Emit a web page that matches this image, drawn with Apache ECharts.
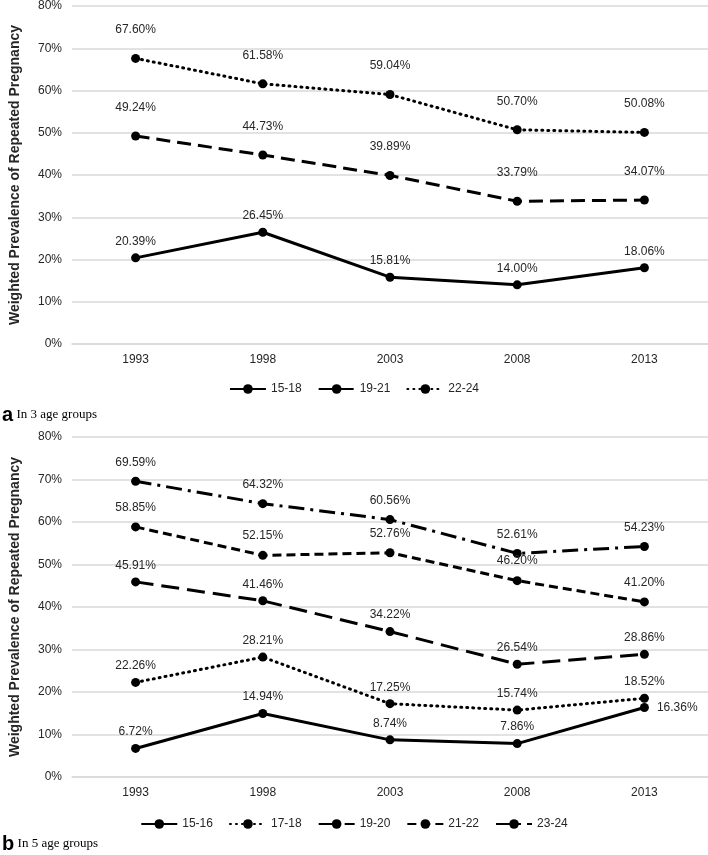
<!DOCTYPE html>
<html style="height: 100%">
<head>
    <meta charset="utf-8">
    <script type="text/javascript" src="https://cdn.jsdelivr.net/npm/echarts@6/dist/echarts.min.js"></script>
</head>
<body style="height: 100%; margin: 0; background: #fff">
<div id="container" style="width: 708px; height: 855px"></div>
<script type="text/javascript">
    var years = ['1993', '1998', '2003', '2008', '2013'];

    // panel a - 3 age groups
    var groupsA = ['15-18', '19-21', '22-24'];
    var a1518 = [20.39, 26.45, 15.81, 14.00, 18.06];
    var a1921 = [49.24, 44.73, 39.89, 33.79, 34.07];
    var a2224 = [67.60, 61.58, 59.04, 50.70, 50.08];

    // panel b - 5 age groups
    var groupsB = ['15-16', '17-18', '19-20', '21-22', '23-24'];
    var b1516 = [6.72, 14.94, 8.74, 7.86, 16.36];
    var b1718 = [22.26, 28.21, 17.25, 15.74, 18.52];
    var b1920 = [45.91, 41.46, 34.22, 26.54, 28.86];
    var b2122 = [58.85, 52.15, 52.76, 46.20, 41.20];
    var b2324 = [69.59, 64.32, 60.56, 52.61, 54.23];

    var FONT = 'Liberation Sans';
    var axisName = 'Weighted Prevalence of Repeated Pregnancy';

    var dom = document.getElementById('container');
    var myChart = echarts.init(dom);

    function xAxis(idx) {
        return {
            type: 'category', gridIndex: idx, data: years,
            axisLine: {lineStyle: {color: '#d9d9d9', width: 1.5}},
            axisTick: {show: false},
            axisLabel: {color: '#262626', fontFamily: FONT, fontSize: 12, margin: 10}
        };
    }
    function yAxis(idx) {
        return {
            type: 'value', gridIndex: idx, min: 0, max: 80, interval: 10,
            name: axisName, nameLocation: 'middle', nameGap: 50,
            nameTextStyle: {fontFamily: FONT, fontSize: 14, fontWeight: 'bold', color: '#262626'},
            axisLine: {show: false}, axisTick: {show: false},
            axisLabel: {formatter: '{value}%', color: '#262626', fontFamily: FONT, fontSize: 12, margin: 10},
            splitLine: {lineStyle: {color: '#d9d9d9', width: 1.5}}
        };
    }
    function line(name, values, idx, dash, cap, dist) {
        return {
            type: 'line', name: name, xAxisIndex: idx, yAxisIndex: idx,
            data: values,
            symbol: 'circle', symbolSize: 9,
            itemStyle: {color: '#000'},
            lineStyle: {color: '#000', width: 3, type: dash, cap: cap},
            label: {
                show: true, position: 'top', distance: dist,
                fontFamily: FONT, fontSize: 12, color: '#262626',
                formatter: function (p) { return p.value.toFixed(2) + '%'; }
            },
            animation: false
        };
    }
    function legend(idx, names, top) {
        return {
            data: names, top: top, left: 'center',
            itemWidth: 36, itemHeight: 12, itemGap: 16,
            textStyle: {fontFamily: FONT, fontSize: 12, color: '#262626'}
        };
    }

    var s1516 = line('15-16', b1516, 1, 'solid', 'butt', 6);
    // last point label sits to the right of its marker
    s1516.data = b1516.map(function (v, i) {
        return i === b1516.length - 1 ? {value: v, label: {position: 'right', distance: 8}} : v;
    });

    var option = {
        backgroundColor: '#fff',
        animation: false,
        grid: [
            {left: 72, right: 0, top: 4, height: 340},
            {left: 72, right: 0, top: 437, height: 340}
        ],
        xAxis: [xAxis(0), xAxis(1)],
        yAxis: [yAxis(0), yAxis(1)],
        legend: [legend(0, groupsA, 378), legend(1, groupsB, 813)],
        series: [
            line('15-18', a1518, 0, 'solid', 'butt', 6),
            line('19-21', a1921, 0, [14, 7], 'butt', 18),
            line('22-24', a2224, 0, [1, 5], 'round', 18),
            s1516,
            line('17-18', b1718, 1, [1, 5], 'round', 6),
            line('19-20', b1920, 1, [18, 8], 'butt', 6),
            line('21-22', b2122, 1, [9, 5], 'butt', 9),
            line('23-24', b2324, 1, [16, 6, 3, 6], 'butt', 8)
        ],
        graphic: [
            {type: 'text', left: 2, top: 405, style: {
                text: '{b|a} {t|In 3 age groups}',
                rich: {b: {fontFamily: FONT, fontWeight: 'bold', fontSize: 20, fill: '#000'},
                       t: {fontFamily: 'Liberation Serif', fontSize: 13, fill: '#000'}}
            }},
            {type: 'text', left: 2, top: 834, style: {
                text: '{b|b} {t|In 5 age groups}',
                rich: {b: {fontFamily: FONT, fontWeight: 'bold', fontSize: 20, fill: '#000'},
                       t: {fontFamily: 'Liberation Serif', fontSize: 13, fill: '#000'}}
            }}
        ]
    };
    myChart.setOption(option);
</script>
</body>
</html>
